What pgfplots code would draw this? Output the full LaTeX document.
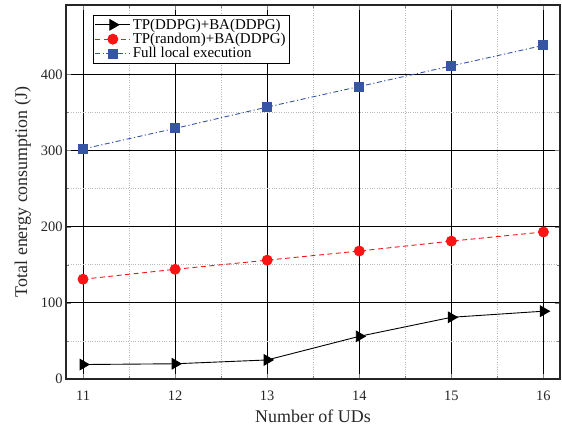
\documentclass[border=0pt]{standalone}
\usepackage{fontspec}
\setmainfont{Liberation Serif}
\usepackage{pgfplots}
\pgfplotsset{compat=1.18}
\definecolor{myblue}{RGB}{55,85,165}
\definecolor{myred}{RGB}{250,20,20}
\begin{document}
\begin{tikzpicture}
\begin{axis}[
  scale only axis,
  width=494bp, height=374bp,
  xmin=10.815, xmax=16.18,
  ymin=0, ymax=491,
  xtick={11,12,13,14,15,16},
  xticklabels={11,12,13,14,15,16},
  ytick={0,100,200,300,400},
  yticklabels={0,100,200,300,400},
  minor x tick num=1,
  minor y tick num=1,
  tick align=inside,
  major tick length=5bp,
  minor tick length=3bp,
  axis line style={line width=1.1pt, black!85},
  grid=both,
  major grid style={black, line width=0.7pt},
  minor grid style={gray!55, dotted, line width=0.6pt},
  ticklabel style={font=\fontsize{14.5}{16}\selectfont\rmfamily, text=black!85},
  xticklabel style={yshift=-8bp},
  xlabel={Number of UDs},
  ylabel={Total energy consumption (J)},
  label style={font=\fontsize{18}{20}\selectfont, text=black!85},
  xlabel style={yshift=-3bp},
  ylabel style={yshift=3bp},
  legend style={at={(rel axis cs:0,1)}, anchor=north west, xshift=27bp, yshift=-10bp,
    font=\fontsize{15}{17}\selectfont, draw=black, line width=0.8pt, inner sep=1.5pt, row sep=-1.5pt,
    cells={anchor=west}},
  legend cell align=left,
  legend image code/.code={\draw[#1] (0bp,0bp) -- (17.5bp,0bp) -- (35bp,0bp); \draw[#1, solid, only marks] plot coordinates {(17.5bp,0bp)};},
]
\addplot[black, line width=0.9pt, mark=triangle*, mark size=6bp, mark options={rotate=-90, solid, fill=black}]
  coordinates {(11,19) (12,20) (13,25) (14,56) (15,81) (16,89)};
\addlegendentry{TP(DDPG)+BA(DDPG)}
\addplot[myred, dash pattern=on 5pt off 3.5pt, line width=0.9pt, mark=*, mark size=5bp, mark options={solid, fill=myred}]
  coordinates {(11,131) (12,144) (13,156) (14,168) (15,181) (16,193)};
\addlegendentry{TP(random)+BA(DDPG)}
\addplot[myblue, dash pattern=on 5pt off 2.5pt on 1.2pt off 2.5pt, line width=0.9pt, mark=square*, mark size=4.5bp, mark options={solid, fill=myblue}]
  coordinates {(11,302) (12,329) (13,357) (14,384) (15,411) (16,438)};
\addlegendentry{Full local execution}
\end{axis}
\path (-66bp,-53bp) rectangle (496bp,379bp);
\end{tikzpicture}
\end{document}
